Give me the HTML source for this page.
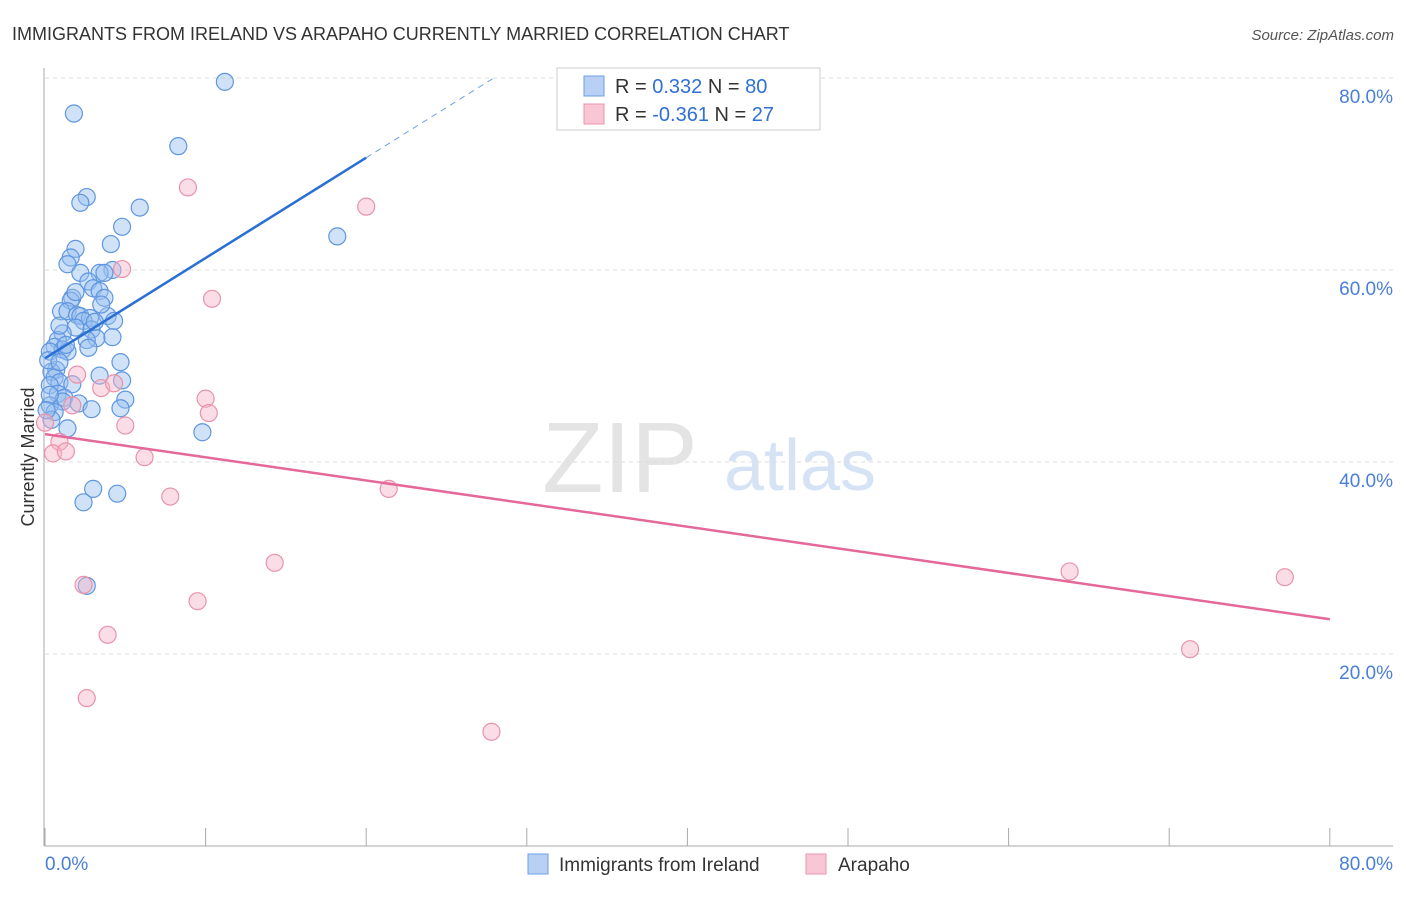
<!DOCTYPE html>
<html><head><meta charset="utf-8"><style>
body{margin:0;background:#fff;font-family:"Liberation Sans",sans-serif}
svg text{font-family:"Liberation Sans",sans-serif}
</style></head><body>
<svg id="chart" width="1406" height="892">
<text x="12" y="40" font-size="18" fill="#333">IMMIGRANTS FROM IRELAND VS ARAPAHO CURRENTLY MARRIED CORRELATION CHART</text>
<text x="1394" y="40" font-size="15" fill="#555" text-anchor="end" font-style="italic">Source: ZipAtlas.com</text>
<text x="620" y="492" font-size="100" fill="#e4e4e4" font-family="Liberation Serif" text-anchor="middle">ZIP</text>
<text x="800" y="490" font-size="72" fill="#d6e3f5" text-anchor="middle">atlas</text>
<text transform="translate(34,457) rotate(-90)" font-size="18" fill="#333" text-anchor="middle">Currently Married</text>
<g id="grid"></g><g id="pts"></g><g id="trend"></g>
<g>
<rect x="557" y="68" width="263" height="62" fill="#fff" stroke="#ccc"/>
<rect x="584" y="76" width="20" height="20" fill="#b7d0f3" stroke="#6c9fe3"/>
<text x="615" y="93" font-size="20" fill="#333">R = <tspan fill="#2f6fd6"> 0.332</tspan>   N = <tspan fill="#2f6fd6">80</tspan></text>
<rect x="584" y="104" width="20" height="20" fill="#f8c6d4" stroke="#ea95ae"/>
<text x="615" y="121" font-size="20" fill="#333">R = <tspan fill="#2f6fd6">-0.361</tspan>   N = <tspan fill="#2f6fd6"> 27</tspan></text>
</g>
<g>
<rect x="528" y="854" width="20" height="20" fill="#b7d0f3" stroke="#6c9fe3"/>
<text x="559" y="871" font-size="19" fill="#333">Immigrants from Ireland</text>
<rect x="806" y="854" width="20" height="20" fill="#f8c6d4" stroke="#ea95ae"/>
<text x="838" y="871" font-size="19" fill="#333">Arapaho</text>
</g>
</svg>
<script>
const blueX=[11.2,1.8,8.3,2.6,2.2,5.9,4.8,4.1,1.9,1.6,1.4,2.2,4.2,3.4,3.7,2.7,3.0,3.4,3.7,1.7,1.6,1.0,1.4,2.0,2.2,2.8,3.9,4.3,2.4,1.9,1.1,2.9,3.2,4.2,2.6,0.8,0.6,2.7,1.1,0.3,1.4,4.7,0.7,0.4,0.6,0.9,3.4,4.8,0.3,1.7,0.8,1.2,1.1,2.1,5.0,4.7,2.9,0.3,0.6,1.4,9.8,3.0,2.4,4.5,2.6,18.2,0.2,0.3,0.4,0.1,0.9,1.3,0.9,3.1,3.5,1.9];
const blueY=[79.6,76.3,72.9,67.6,67.0,66.5,64.5,62.7,62.2,61.3,60.6,59.7,60.0,59.7,59.7,58.8,58.1,57.8,57.1,57.1,56.8,55.7,55.7,55.3,55.2,55.0,55.2,54.7,54.7,54.0,53.4,53.8,52.9,53.0,52.7,52.7,52.0,51.9,51.7,51.5,51.5,50.4,49.6,49.4,48.8,48.3,49.0,48.5,48.0,48.1,47.1,46.7,46.3,46.1,46.5,45.6,45.5,45.9,45.2,43.5,43.1,37.2,35.8,36.7,27.1,63.5,50.6,47.0,44.4,45.4,50.4,52.2,54.2,54.6,56.4,57.7];
const pinkX=[8.9,20.0,4.8,10.4,2.0,3.5,4.3,10.0,10.2,1.7,5.0,0.0,0.9,0.5,1.3,6.2,7.8,21.4,14.3,2.4,9.5,3.9,2.6,27.8,63.8,71.3,77.2];
const pinkY=[68.6,66.6,60.1,57.0,49.1,47.7,48.2,46.6,45.1,45.9,43.8,44.1,42.1,40.9,41.1,40.5,36.4,37.2,29.5,27.2,25.5,22.0,15.4,11.9,28.6,20.5,28.0];
const yTicks=[20,40,60,80];
const xTicks=[0,10,20,30,40,50,60,70,80];
const blueTrend=[50.8,1.045];
const pinkTrend=[42.9,-0.241];
const sx=v=>45+v*16.06, sy=v=>846-v*9.6;
const NS="http://www.w3.org/2000/svg";
function mk(t,a,p){const e=document.createElementNS(NS,t);for(const k in a)e.setAttribute(k,a[k]);p.appendChild(e);return e;}
const grid=document.getElementById('grid');
for(const t of yTicks){
 const l=mk('line',{x1:45,x2:1393,y1:sy(t),y2:sy(t),stroke:'#ddd','stroke-dasharray':'4,4'},grid);
 
 
 const tx=mk('text',{x:1393,y:sy(t)+25,'font-size':19,fill:'#4a7fd8','text-anchor':'end'},grid);
 tx.textContent=t.toFixed(1)+'%';
 
 
}
mk('line',{x1:44,x2:44,y1:68,y2:846,stroke:'#aaa'},grid);
mk('line',{x1:44,x2:1393,y1:846,y2:846,stroke:'#aaa'},grid);
for(const t of xTicks){
 const l=mk('line',{x1:sx(t),x2:sx(t),y1:828,y2:846,stroke:'#aaa'},grid);
 
 
}
const xl0=mk('text',{x:45,y:870,'font-size':19,fill:'#4a7fd8'},grid);xl0.textContent='0.0%';


const xl1=mk('text',{x:1393,y:870,'font-size':19,fill:'#4a7fd8','text-anchor':'end'},grid);xl1.textContent='80.0%';


const pts=document.getElementById('pts');
blueX.forEach((x,i)=>{const c=mk('circle',{cx:sx(x),cy:sy(blueY[i]),r:8.5,fill:'rgba(150,190,240,0.45)',stroke:'#5f96e0','stroke-width':1.2},pts);
 
 });
pinkX.forEach((x,i)=>{const c=mk('circle',{cx:sx(x),cy:sy(pinkY[i]),r:8.5,fill:'rgba(245,180,200,0.45)',stroke:'#e993ab','stroke-width':1.2},pts);
 
 });
const tr=document.getElementById('trend');
const bEnd=(80-blueTrend[0])/blueTrend[1];
const b1=mk('line',{x1:sx(0),y1:sy(blueTrend[0]),x2:sx(20),y2:sy(blueTrend[0]+20*blueTrend[1]),stroke:'#2a6fd4','stroke-width':2.5},tr);


const b2=mk('line',{x1:sx(20),y1:sy(blueTrend[0]+20*blueTrend[1]),x2:sx(bEnd),y2:sy(80),stroke:'#6c9fe3','stroke-width':1,'stroke-dasharray':'6,5'},tr);


const p1=mk('line',{x1:sx(0),y1:sy(pinkTrend[0]),x2:sx(80),y2:sy(pinkTrend[0]+80*pinkTrend[1]),stroke:'#e4689a','stroke-width':2.5},tr);


</script>
</body></html>
